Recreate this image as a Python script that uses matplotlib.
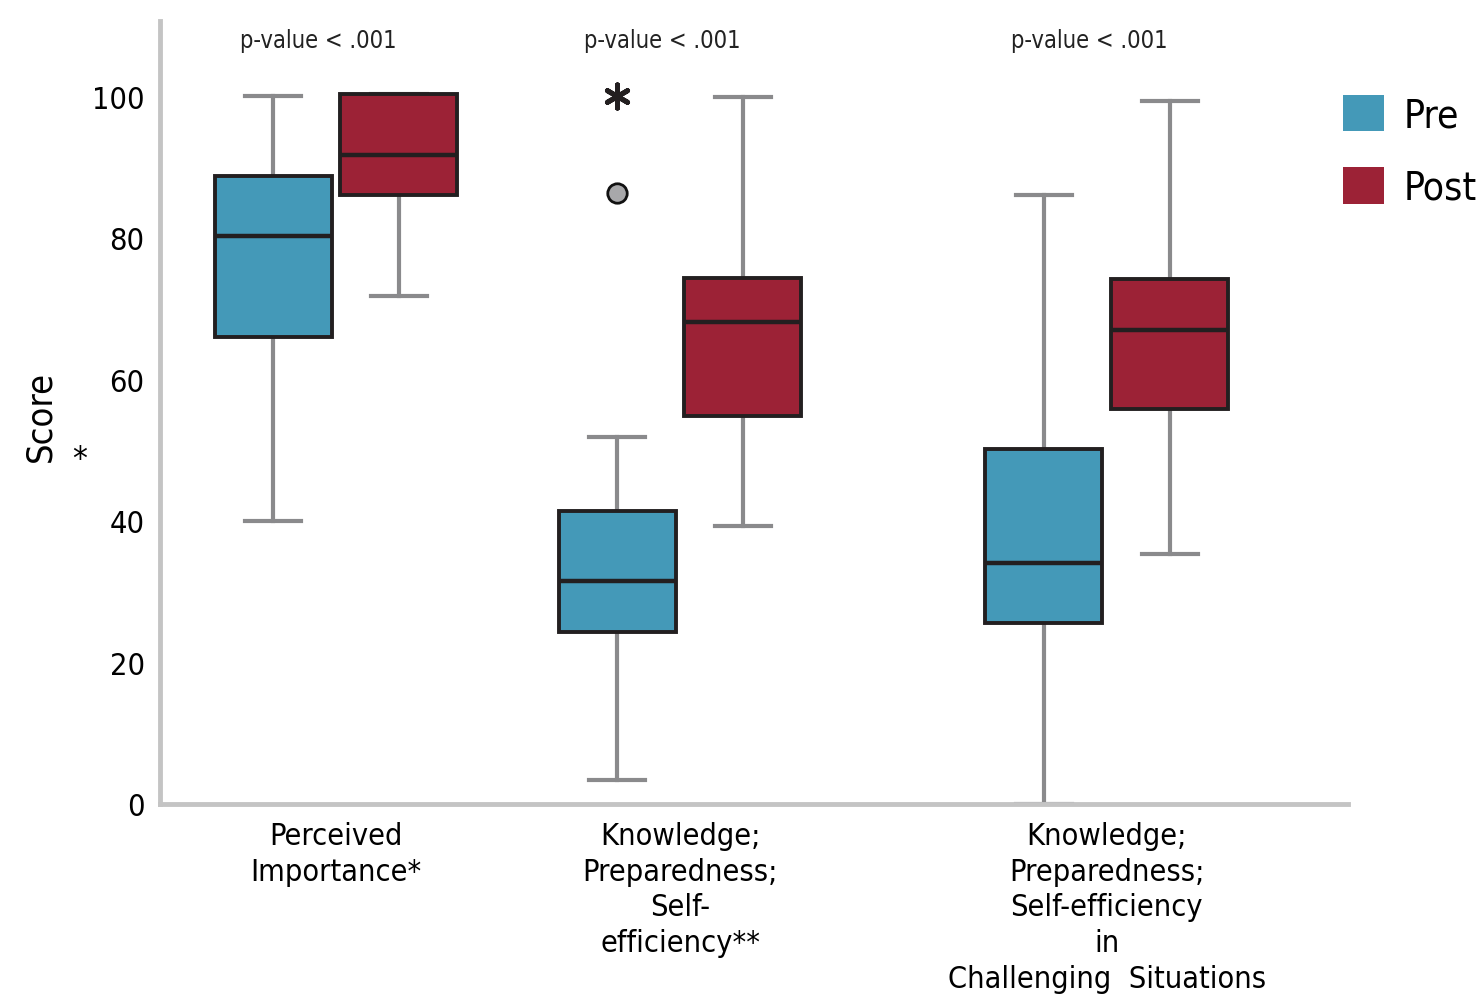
import matplotlib
matplotlib.use("Agg")
import matplotlib.pyplot as plt
from matplotlib.patches import Patch

# ---- data ----
categories = ["Perceived\nImportance*",
              "Knowledge;\nPreparedness;\nSelf-\nefficiency**",
              "Knowledge;\nPreparedness;\nSelf-efficiency\nin\nChallenging  Situations"]
series = ["Pre", "Post"]
pre_whislo = [40.0, 3.4, 0.0]
pre_q1 = [66.0, 24.3, 25.6]
pre_med = [80.3, 31.5, 34.1]
pre_q3 = [88.8, 41.4, 50.2]
pre_whishi = [100.0, 51.9, 86.1]
post_whislo = [71.8, 39.3, 35.3]
post_q1 = [86.1, 54.8, 55.8]
post_med = [91.7, 68.1, 67.0]
post_q3 = [100.3, 74.3, 74.2]
post_whishi = [100.3, 99.9, 99.4]
pre_outliers = [[], [86.4], []]
pre_extremes = [[], [100.0], []]
p_labels = ["p-value < .001", "p-value < .001", "p-value < .001"]
yticks = [0, 20, 40, 60, 80, 100]

# ---- style ----
plt.rcParams["font.family"] = ["DejaVu Sans"]
plt.rcParams["font.stretch"] = "condensed"

group_pos = [1.0, 2.0, 3.241]
offset = 0.183
box_w = 0.34
cap_w = 0.163
colors = {"Pre": "#4499b8", "Post": "#9c2236"}

fig = plt.figure(figsize=(14.78, 9.95), dpi=100)
ax = fig.add_axes([160/1478, 1-805/995, (1348-160)/1478, (805-22)/995])

def stats(lo, q1, med, q3, hi, fl):
    return [dict(whislo=a, q1=b, med=c, q3=d, whishi=e, fliers=f)
            for a, b, c, d, e, f in zip(lo, q1, med, q3, hi, fl)]

pre_stats = stats(pre_whislo, pre_q1, pre_med, pre_q3, pre_whishi, pre_outliers)
post_stats = stats(post_whislo, post_q1, post_med, post_q3, post_whishi, [[], [], []])

common = dict(widths=box_w, capwidths=cap_w, patch_artist=True, showfliers=True,
              whiskerprops=dict(color="#8a8a8c", lw=3.0),
              capprops=dict(color="#8a8a8c", lw=3.0),
              medianprops=dict(color="#231f20", lw=3.2),
              flierprops=dict(marker="o", markersize=14, markerfacecolor="#a8a8aa",
                              markeredgecolor="#111111", markeredgewidth=2.0))

for st, name, sign in [(pre_stats, "Pre", -1), (post_stats, "Post", 1)]:
    pos = [g + sign * offset for g in group_pos]
    bp = ax.bxp(st, positions=pos, **common)
    for b in bp["boxes"]:
        b.set_facecolor(colors[name])
        b.set_edgecolor("#231f20")
        b.set_linewidth(2.8)
        b.set_zorder(3)
    for m in bp["medians"]:
        m.set_zorder(4)

for g, ext in zip(group_pos, pre_extremes):
    if ext:
        ax.scatter([g - offset] * len(ext), ext, marker=(6, 2, 0), s=280,
                   color="#231f20", linewidths=3.6, zorder=5)

for g, lab in zip(group_pos, p_labels):
    ax.text(g - 0.052, 108.0, lab, ha="center", va="center", fontsize=17,
            color="#222222")

ax.set_xlim(1 - 176/344, 1 + (1348-336)/344)
ax.set_ylim(0, (805-22)/7.075)
ax.set_yticks(yticks)
ax.set_yticklabels([str(v) for v in yticks], fontsize=22)
ax.set_xticks(group_pos)
ax.set_xticklabels(categories, fontsize=22, linespacing=1.3)
ax.tick_params(length=0)
ax.tick_params(axis="y", pad=11)
ax.tick_params(axis="x", pad=12)

for s in ["top", "right"]:
    ax.spines[s].set_visible(False)
for s in ["left", "bottom"]:
    ax.spines[s].set_color("#c4c4c4")
    ax.spines[s].set_linewidth(3.5)

fig.text(40/1478, 1-416/995, "Score", rotation=90, ha="center", va="center", fontsize=26)
fig.text(80/1478, 1-460/995, "*", ha="center", va="center", fontsize=24)

handles = [Patch(facecolor=colors[s], edgecolor="none") for s in series]
fig.legend(handles, series, loc="upper left",
           bbox_to_anchor=(1343/1478, 1-96/995), frameon=False, fontsize=28,
           handlelength=1.06, handleheight=1.06, handletextpad=0.5,
           labelspacing=0.85, borderpad=0, borderaxespad=0)

fig.savefig("out.png", dpi=100)
